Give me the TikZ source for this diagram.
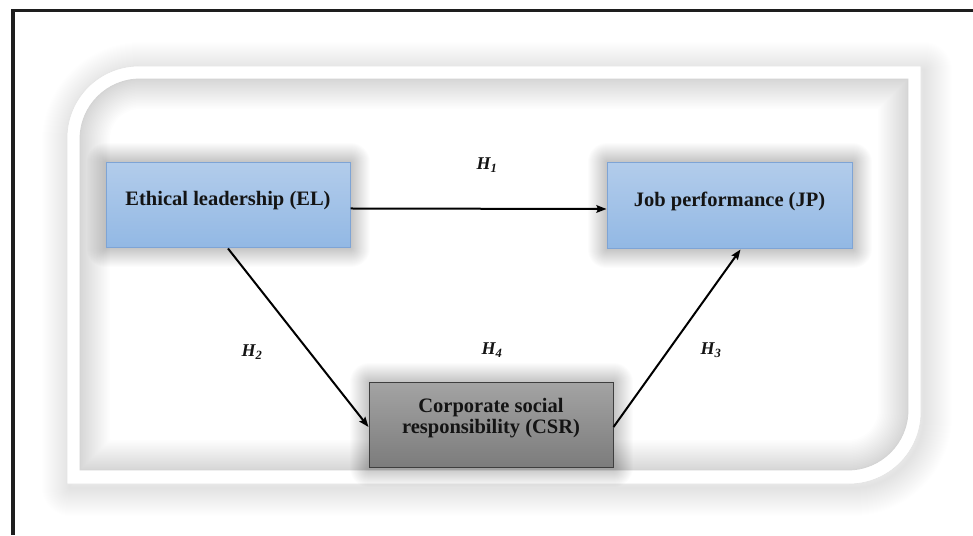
\documentclass[tikz,border=0pt]{standalone}
\usepackage{fontspec}
\setmainfont{Liberation Serif}
\usetikzlibrary{arrows.meta}
\pgfdeclarelayer{back}
\pgfdeclarelayer{glow}
\pgfsetlayers{back,glow,main}
\definecolor{blueT}{RGB}{178,204,235}
\definecolor{blueB}{RGB}{146,184,228}
\definecolor{blueE}{RGB}{126,164,213}
\definecolor{grayT}{RGB}{163,163,163}
\definecolor{grayB}{RGB}{124,124,124}
\definecolor{grayE}{RGB}{62,62,62}
\definecolor{frameC}{RGB}{30,30,30}
\definecolor{textC}{RGB}{20,20,20}
\newcommand\bandOuterPath[1]{\path[#1] (67,51) -- (67,397) arc[start angle=180,end angle=90,radius=72pt] -- (921,469) -- (921,123) arc[start angle=0,end angle=-90,radius=72pt] -- cycle;}
\newcommand\bandInnerPath[1]{\path[#1] (80,65) -- (80,396) arc[start angle=180,end angle=90,radius=60pt] -- (908,456) -- (908,125) arc[start angle=0,end angle=-90,radius=60pt] -- cycle;}
\newcommand\boxglow[1]{\foreach \w in {2,4,...,38} {\draw[black, opacity=0.011, line width=\w pt, line join=round] (#1.south west) rectangle (#1.north east);}}
\tikzset{
  bluebox/.style={rectangle, minimum width=244pt, minimum height=85pt, inner sep=0pt,
    top color=blueT, bottom color=blueB, draw=blueE, line width=1pt},
  graybox/.style={rectangle, minimum width=244pt, minimum height=84pt, inner sep=0pt,
    top color=grayT, bottom color=grayB, draw=grayE, line width=1pt},
  boxtext/.style={font=\fontsize{20.5}{21}\selectfont\bfseries, text=textC, align=center},
  hyp/.style={fill=white, minimum width=46pt, minimum height=27pt, inner sep=0pt,
    font=\fontsize{18}{18}\selectfont\bfseries\itshape, text=textC},
  link/.style={line width=2pt, black, -{Stealth[length=10pt,width=7.5pt,inset=1.5pt]}}
}
\begin{document}
\begin{tikzpicture}[x=1pt,y=1pt]
\useasboundingbox (0,0) rectangle (973,535);
\begin{pgfonlayer}{back}
\fill[white] (0,0) rectangle (973,535);
\draw[frameC, line width=3.5pt] (973,524.5) -- (13,524.5) -- (13,0);
% drop shadow of the white band
\begin{scope}[shift={(3,-4)}]
\foreach \w in {2,4,...,56} {\bandOuterPath{draw=black, opacity=0.0055, line width=\w pt, line join=round}}
\end{scope}
\bandOuterPath{fill=white, draw={rgb,255:red,228;green,228;blue,228}, line width=0.6pt}
\bandInnerPath{fill=white}
\begin{scope}
\bandInnerPath{clip}
\foreach \w in {3,6,...,60} {\bandInnerPath{draw=black, opacity=0.0075, line width=\w pt, line join=round}}
\end{scope}
\bandInnerPath{draw={rgb,255:red,212;green,212;blue,212}, line width=0.8pt}
\end{pgfonlayer}

\node[bluebox, label={[boxtext, yshift=5pt]center:Ethical leadership (EL)}] (EL) at (228,329.5) {};
\node[bluebox, minimum width=245pt, minimum height=86pt, label={[boxtext, yshift=5pt]center:Job performance (JP)}] (JP) at (729.5,329) {};
\node[graybox, label={[boxtext, yshift=7pt]center:Corporate social\\responsibility (CSR)}] (CSR) at (491,110) {};

\begin{pgfonlayer}{glow}
\boxglow{EL}
\boxglow{JP}
\boxglow{CSR}
\end{pgfonlayer}

\draw[link] ([yshift=-3pt]EL.east) -- ([yshift=-3pt]JP.west);
\draw[link] (EL.south) -- ([yshift=-2pt]CSR.west);
\draw[link] ([yshift=-2pt]CSR.east) -- ([xshift=11pt]JP.south);

\node[hyp] (h1) at (487,370) {H\textsubscript{1}};
\node[hyp] (h2) at (252,183) {H\textsubscript{2}};
\node[hyp] (h4) at (492,185) {H\textsubscript{4}};
\node[hyp] (h3) at (711,185) {H\textsubscript{3}};
\end{tikzpicture}
\end{document}
